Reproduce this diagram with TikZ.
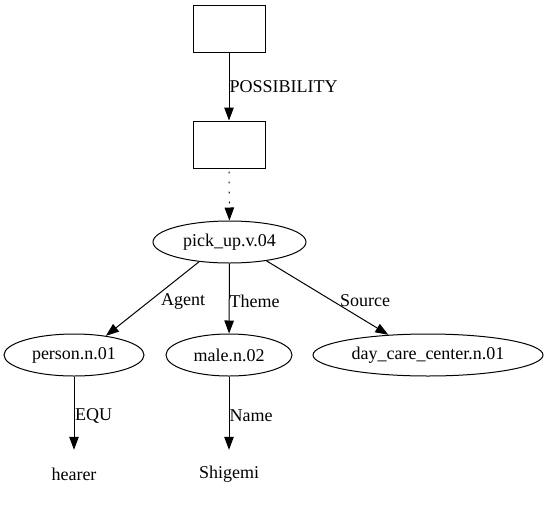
\documentclass[tikz,border=0pt]{standalone}
\usepackage{fontspec}
\setmainfont{Liberation Serif}
\usetikzlibrary{shapes.geometric,arrows.meta}
\begin{document}
\begin{tikzpicture}[x=1pt,y=-1pt,
  every node/.style={font=\fontsize{18}{20}\selectfont},
  boxnode/.style={draw,line width=1pt,minimum width=72pt,minimum height=47pt,inner sep=0pt},
  ell/.style={draw,ellipse,line width=1pt,inner sep=0pt,minimum height=42pt},
  plain/.style={inner sep=0pt,minimum height=48pt,minimum width=40pt},
  lbl/.style={inner sep=0pt,anchor=west},
  conn/.style={line width=1pt,-{Triangle[length=13pt,width=9.5pt]}}]
\useasboundingbox (0,0) rectangle (549,504);
\node[boxnode] (b1) at (229,29) {};
\node[boxnode] (b2) at (229,144.5) {};
\node[ell,minimum width=153pt] (pick) at (229.5,242) {pick\_up.v.04};
\node[ell,minimum width=140pt] (person) at (74,355) {person.n.01};
\node[ell,minimum width=126pt] (male) at (229,355) {male.n.02};
\node[ell,minimum width=230pt] (dcc) at (428,355) {day\_care\_center.n.01};
\node[plain] (hearer) at (74,474) {hearer};
\node[plain] (shig) at (229,474) {Shigemi};
\draw[conn] (b1) -- (b2);
\draw[conn,dash pattern=on 1.8pt off 8.2pt,dash phase=-3pt] (b2) -- (pick);
\draw[conn] (pick.213) -- (person.31);
\draw[conn] (pick) -- (male);
\draw[conn] (pick.333) -- (dcc.153);
\draw[conn] (person) -- (hearer);
\draw[conn] (male) -- (shig);
\node[lbl] (lp) at (229.5,87) {POSSIBILITY};
\node[lbl] (la) at (161,301) {Agent};
\node[lbl] (lt) at (229.5,301) {Theme};
\node[lbl] (ls) at (340,301) {Source};
\node[lbl] (le) at (75,416) {EQU};
\node[lbl] (ln) at (229.5,416) {Name};
\end{tikzpicture}
\end{document}
